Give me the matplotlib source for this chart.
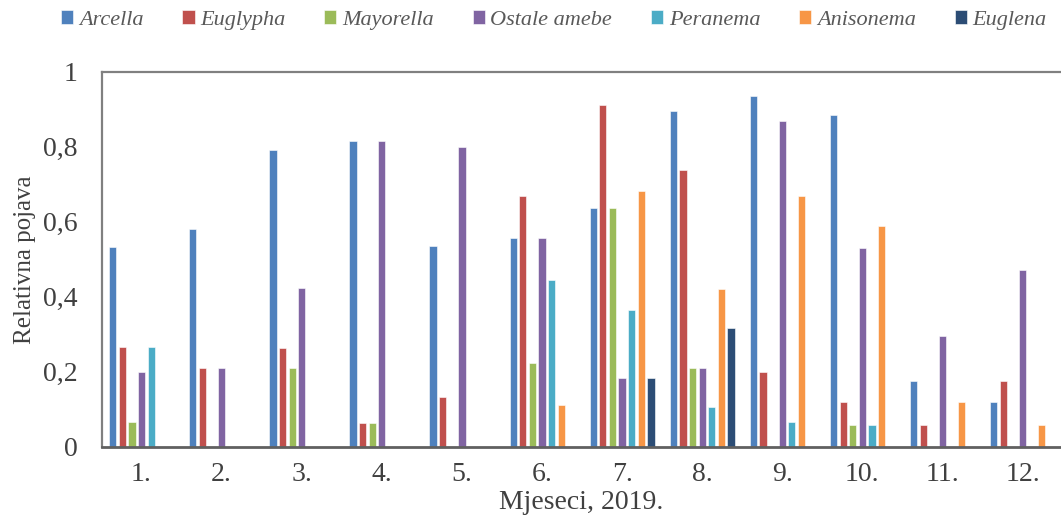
import matplotlib.pyplot as plt
import numpy as np

# podaci procitani sa grafa
mjeseci = ['1.', '2.', '3.', '4.', '5.', '6.', '7.', '8.', '9.', '10.', '11.', '12.']
arcella = [0.533, 0.58, 0.79, 0.815, 0.534, 0.556, 0.636, 0.896, 0.935, 0.884, 0.176, 0.119]
euglypha = [0.267, 0.21, 0.263, 0.063, 0.133, 0.668, 0.91, 0.738, 0.2, 0.119, 0.059, 0.176]
mayorella = [0.067, 0, 0.21, 0.063, 0, 0.223, 0.636, 0.21, 0, 0.059, 0, 0]
ostale_amebe = [0.2, 0.21, 0.423, 0.815, 0.8, 0.556, 0.183, 0.21, 0.867, 0.531, 0.295, 0.471]
peranema = [0.267, 0, 0, 0, 0, 0.446, 0.364, 0.107, 0.067, 0.059, 0, 0]
anisonema = [0, 0, 0, 0, 0, 0.112, 0.683, 0.422, 0.668, 0.589, 0.119, 0.059]
euglena = [0, 0, 0, 0, 0, 0, 0.183, 0.316, 0, 0, 0, 0]

serije = [
    ('Arcella', arcella, '#4F81BD'),
    ('Euglypha', euglypha, '#C0504D'),
    ('Mayorella', mayorella, '#9BBB59'),
    ('Ostale amebe', ostale_amebe, '#8064A2'),
    ('Peranema', peranema, '#4BACC6'),
    ('Anisonema', anisonema, '#F79646'),
    ('Euglena', euglena, '#2C4D75'),
]

plt.rcParams['font.family'] = ['Liberation Serif', 'DejaVu Serif']

fig = plt.figure(figsize=(10.61, 5.29), dpi=100)
ax = fig.add_axes([101.5 / 1061, 82 / 529, 959.5 / 1061, 375.5 / 529])

x = np.arange(len(mjeseci))
korak = 0.12
sirina = 0.09
for i, (ime, vrijednosti, boja) in enumerate(serije):
    ax.bar(x + (i - 3) * korak, vrijednosti, width=sirina, color=boja,
           edgecolor='white', linewidth=0.4, label=ime)

ax.set_xlim(-0.5, 11.48)
ax.set_ylim(0, 1)
ax.set_xticks(x)
ax.set_xticklabels(mjeseci)
ax.set_yticks([0, 0.2, 0.4, 0.6, 0.8, 1])
ax.set_yticklabels(['0', '0,2', '0,4', '0,6', '0,8', '1'])
ax.tick_params(length=0, labelsize=20, colors='#404040')
ax.tick_params(axis='x', pad=11)
ax.tick_params(axis='y', pad=17)

for s in ['left', 'top']:
    ax.spines[s].set_color('#808080')
    ax.spines[s].set_linewidth(1.6)
ax.spines['bottom'].set_color('#606060')
ax.spines['bottom'].set_linewidth(2)
ax.spines['right'].set_visible(False)

ax.set_ylabel('Relativna pojava', fontsize=18, color='#404040', labelpad=5)
ax.set_xlabel('Mjeseci, 2019.', fontsize=20, color='#404040', labelpad=2)

fig.legend(loc='center', bbox_to_anchor=(0.522, 0.962), ncol=7, frameon=False,
           prop={'style': 'italic', 'size': 16}, labelcolor='#595959',
           handlelength=0.55, handleheight=0.55, handletextpad=0.25, columnspacing=1.75)

plt.savefig('out.png')
